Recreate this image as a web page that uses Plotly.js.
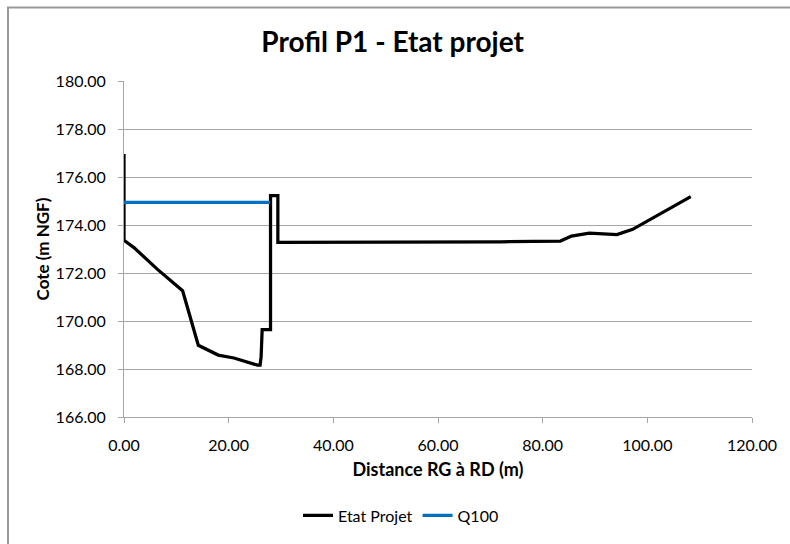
<!DOCTYPE html>
<html>
<head>
<meta charset="utf-8">
<script src="https://cdn.plot.ly/plotly-3.0.1.min.js"></script>
<style>
  html, body { margin: 0; padding: 0; background: #ffffff; }
  #chart { width: 790px; height: 544px; }
</style>
</head>
<body>
<div id="chart"></div>
<script>
// Cross-section profile P1 (project state): ground line and Q100 water level
const profilDistance = [0.0, 0.0, 1.9, 6.4, 11.2, 14.2, 18.0, 21.0, 25.5, 26.0, 26.2, 26.4, 28.0, 28.0, 29.4, 29.4, 72.0, 83.4, 85.5, 88.9, 94.2, 97.2, 108.3];
const profilCote     = [176.96, 173.36, 173.06, 172.15, 171.26, 168.99, 168.58, 168.46, 168.16, 168.16, 168.5, 169.64, 169.64, 175.22, 175.22, 173.28, 173.30, 173.33, 173.54, 173.66, 173.60, 173.82, 175.18];

const q100Distance = [0.0, 27.9];
const q100Cote     = [174.94, 174.94];

const xTicks = [0, 20, 40, 60, 80, 100, 120];
const yTicks = [166, 168, 170, 172, 174, 176, 178, 180];

const font = "Lato, 'Open Sans', 'DejaVu Sans', sans-serif";

const traces = [
  {
    type: "scatter", mode: "lines", name: "Etat Projet",
    x: profilDistance, y: profilCote,
    line: { color: "#000000", width: 3.25 }
  },
  {
    type: "scatter", mode: "lines", name: "Q100",
    x: q100Distance, y: q100Cote,
    line: { color: "#0070C0", width: 3.25 }
  }
];

// plot area spans 628 x 341 px; the frame below is placed in paper units
const W = 628, H = 341, L = 124, T = 81;
const layout = {
  width: 790, height: 544,
  margin: { l: L, r: 790 - L - W, t: T, b: 544 - T - H },
  paper_bgcolor: "#ffffff", plot_bgcolor: "#ffffff",
  font: { family: font, size: 16, color: "#000000" },
  title: {
    text: "<b>Profil P1 - Etat projet</b>",
    font: { family: font, size: 28, color: "#000000" },
    x: 0.497, xanchor: "center", xref: "container",
    y: 0.922, yanchor: "middle"
  },
  xaxis: {
    range: [0, 120], tickvals: xTicks, tickformat: ".2f",
    showgrid: false, zeroline: false,
    showline: true, linecolor: "#a6a6a6", linewidth: 1,
    ticks: "outside", ticklen: 5, tickcolor: "#a6a6a6",
    ticklabelstandoff: 9,
    tickfont: { family: font, size: 16 },
    title: { text: "<b>Distance RG à RD (m)</b>", font: { family: font, size: 18 }, standoff: 10 }
  },
  yaxis: {
    range: [166, 180], tickvals: yTicks, tickformat: ".2f",
    showgrid: true, gridcolor: "#a6a6a6", gridwidth: 1,
    zeroline: false,
    showline: true, linecolor: "#a6a6a6", linewidth: 1,
    ticks: "outside", ticklen: 5, tickcolor: "#a6a6a6",
    ticklabelstandoff: 9,
    tickfont: { family: font, size: 16 },
    title: { text: "<b>Cote (m NGF)</b>", font: { family: font, size: 17 }, standoff: 1 }
  },
  showlegend: true,
  legend: {
    orientation: "h", x: (401 - L) / W, xanchor: "center",
    y: -(522 - (T + H)) / H, yanchor: "middle",
    font: { family: font, size: 16 }, bgcolor: "rgba(0,0,0,0)"
  },
  shapes: [
    {
      type: "rect", xref: "paper", yref: "paper", layer: "below",
      x0: (8 - L) / W, x1: (805 - L) / W,
      y0: -(560 - (T + H)) / H, y1: 1 + (T - 6.5) / H,
      line: { color: "#999999", width: 2 }, fillcolor: "rgba(0,0,0,0)"
    }
  ]
};

Plotly.newPlot("chart", traces, layout, { displayModeBar: false, staticPlot: true });
</script>
</body>
</html>
